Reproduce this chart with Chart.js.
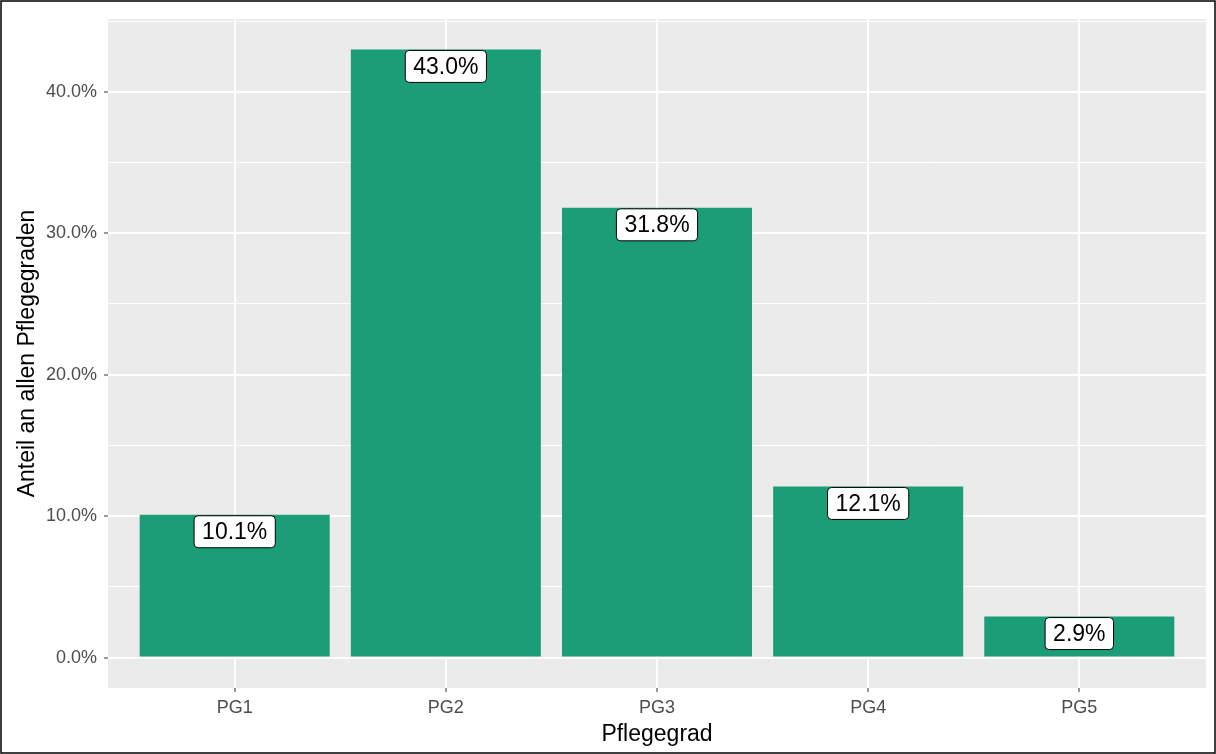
<!DOCTYPE html>
<html>
<head>
<meta charset="utf-8">
<script src="https://cdn.jsdelivr.net/npm/chart.js@4"></script>
<style>
  html, body { margin: 0; padding: 0; background: #fff; }
  #wrap { width: 1216px; height: 754px; position: relative; }
</style>
</head>
<body>
<div id="wrap"><canvas id="myChart"></canvas></div>
<script>
// data
var categories = ['PG1', 'PG2', 'PG3', 'PG4', 'PG5'];
var shares = [10.1, 43.0, 31.8, 12.1, 2.9];
var yTicks = [0, 5, 10, 15, 20, 25, 30, 35, 40, 45];
var FONT = "'Liberation Sans', Arial, sans-serif";

var panelBg = {
  id: 'panelBg',
  beforeDraw: function (chart) {
    var c = chart.ctx, a = chart.chartArea;
    c.save();
    c.fillStyle = '#ffffff';
    c.fillRect(0, 0, chart.width, chart.height);
    c.fillStyle = '#EBEBEB';
    c.fillRect(a.left, a.top, a.right - a.left, a.bottom - a.top);
    c.restore();
  },
  afterDraw: function (chart) {
    var c = chart.ctx;
    c.save();
    c.strokeStyle = '#000';
    c.lineWidth = 1.5;
    c.strokeRect(1, 1, chart.width - 2, chart.height - 2);
    c.restore();
  }
};

var barLabels = {
  id: 'barLabels',
  afterDatasetsDraw: function (chart) {
    var c = chart.ctx;
    var meta = chart.getDatasetMeta(0);
    var y = chart.scales.y;
    c.save();
    c.font = '23px ' + FONT;
    c.textAlign = 'center';
    c.textBaseline = 'middle';
    shares.forEach(function (v, i) {
      var txt = v.toFixed(1) + '%';
      var cx = meta.data[i].x;
      var top = y.getPixelForValue(v) + 1;
      var w = c.measureText(txt).width + 16;
      var h = 32;
      c.beginPath();
      c.roundRect(cx - w / 2, top, w, h, 4);
      c.fillStyle = '#ffffff';
      c.fill();
      c.lineWidth = 1;
      c.strokeStyle = '#000';
      c.stroke();
      c.fillStyle = '#000';
      c.fillText(txt, cx, top + h / 2 + 1);
    });
    c.restore();
  }
};

var ctx = document.getElementById('myChart').getContext('2d');
var chart = new Chart(ctx, {
  type: 'bar',
  data: {
    datasets: [
      {
        data: shares.map(function (v, i) { return { x: i + 1, y: v }; }),
        backgroundColor: '#1B9E77',
        borderWidth: 0,
        barPercentage: 0.9,
        categoryPercentage: 1.0,
      },
    ],
  },
  options: {
    responsive: true,
    maintainAspectRatio: false,
    animation: false,
    layout: { padding: { left: 0, right: 10, top: 19, bottom: 0 } },
    plugins: { legend: { display: false }, tooltip: { enabled: false } },
    scales: {
      x: {
        type: 'linear',
        min: 0.4,
        max: 5.6,
        offset: false,
        border: { display: false },
        afterBuildTicks: function (s) {
          s.ticks = categories.map(function (c, i) { return { value: i + 1 }; });
        },
        afterFit: function (s) { s.height = 66; },
        grid: {
          offset: false,
          color: '#ffffff',
          lineWidth: 2,
          tickLength: 4,
          tickColor: '#333333',
          tickWidth: 1,
        },
        ticks: {
          padding: 5,
          color: '#4D4D4D',
          font: { family: FONT, size: 18 },
          autoSkip: false,
          maxRotation: 0,
          callback: function (v) { return categories[v - 1]; },
        },
        title: {
          display: true,
          text: 'Pflegegrad',
          color: '#000',
          font: { family: FONT, size: 23 },
          padding: { top: 2, bottom: 6 },
        },
      },
      y: {
        min: -2.15,
        max: 45.15,
        border: { display: false },
        afterBuildTicks: function (s) {
          s.ticks = yTicks.map(function (v) { return { value: v }; });
        },
        afterFit: function (s) { s.width = 108; },
        grid: {
          color: '#ffffff',
          lineWidth: function (c) { return c.tick && c.tick.value % 10 === 0 ? 2 : 1; },
          tickLength: 4,
          tickColor: function (c) { return c.tick && c.tick.value % 10 === 0 ? '#333333' : 'rgba(0,0,0,0)'; },
          tickWidth: 1,
        },
        ticks: {
          padding: 7,
          color: '#4D4D4D',
          font: { family: FONT, size: 18 },
          callback: function (v) { return v % 10 === 0 ? v.toFixed(1) + '%' : ''; },
        },
        title: {
          display: true,
          text: 'Anteil an allen Pflegegraden',
          color: '#000',
          font: { family: FONT, size: 23 },
          padding: { top: 14, bottom: 0 },
        },
      },
    },
  },
  plugins: [panelBg, barLabels],
});
</script>
</body>
</html>
